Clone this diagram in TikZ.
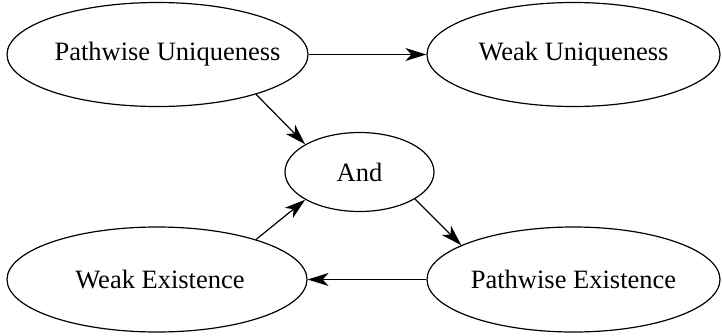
\documentclass[tikz,border=0pt]{standalone}
\usepackage{fontspec}
\setmainfont{Liberation Serif}
\usetikzlibrary{shapes.geometric,arrows.meta}
\newcommand{\zw}[2][0pt]{\makebox[0pt]{\hspace*{#1}#2}}
\begin{document}
\begin{tikzpicture}[x=1pt,y=-1pt,
  ell/.style={draw, ellipse, line width=1.2pt, inner sep=0pt,
    font=\fontsize{26.5}{30}\selectfont},
  big/.style={ell, minimum width=300pt, minimum height=104pt},
  edge/.style={line width=1.2pt, -{Stealth[length=21pt,width=13pt,inset=6pt]}}]
\useasboundingbox (0,0) rectangle (722,335);
\node[big, minimum width=301pt] (PU) at (157.5,54.5) {\zw[20pt]{Pathwise Uniqueness}};
\node[big, minimum width=293pt] (WU) at (573.5,54.5) {\zw{Weak Uniqueness}};
\node[ell, minimum width=149pt, minimum height=79pt] (And) at (359.5,172) {\zw{And}};
\node[big, minimum width=300pt, minimum height=105pt] (WE) at (157,279.5) {\zw[6pt]{Weak Existence}};
\node[big, minimum width=293pt, minimum height=105pt] (PE) at (573.5,279.5) {\zw{Pathwise Existence}};
\draw[edge] (PU.east) -- (WU.west);
\draw[edge] (PU.-22) -- (And.153);
\draw[edge] (And.-26) -- (PE.163);
\draw[edge] (PE.west) -- (WE.east);
\draw[edge] (WE.22) -- (And.207);
\end{tikzpicture}
\end{document}
